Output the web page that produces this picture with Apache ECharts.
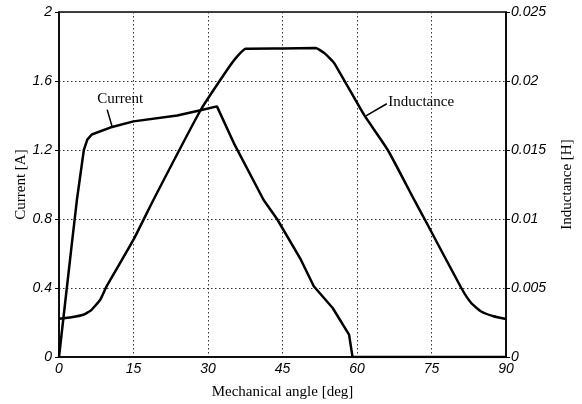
<!DOCTYPE html>
<html><head><meta charset="utf-8">
<script src="https://cdn.jsdelivr.net/npm/echarts@6/dist/echarts.min.js"></script>
<style>html,body{margin:0;padding:0;background:#fff}#c{width:582px;height:404px}</style>
</head><body><div id="c"></div>
<script>
const currentAngle = [0, 2.56, 3.6, 5.0, 5.7, 6.6, 10.3, 15, 23.8, 28.5, 31.8, 35.2, 41.2, 43.9, 48.7, 51.3, 55.1, 58.4, 59.1, 90];
const currentVals  = [0, 0.65, 0.91, 1.20, 1.26, 1.29, 1.33, 1.366, 1.40, 1.43, 1.453, 1.24, 0.91, 0.80, 0.564, 0.41, 0.284, 0.13, 0, 0];
const inductAngle  = [0, 2.5, 4.9, 6.5, 8.3, 9.6, 15, 19, 28.5, 33.9, 35.8, 37.6, 45, 51.7, 53.5, 55.4, 61.4, 66.2, 71.5, 73.6, 81, 83, 85, 87.5, 90];
const inductVals   = [0.00278, 0.00288, 0.00306, 0.00340, 0.00415, 0.00513, 0.0085, 0.01138, 0.01788, 0.02083, 0.02175, 0.02233, 0.02235, 0.02239, 0.02200, 0.0213, 0.01756, 0.0150, 0.0114, 0.0100, 0.0050, 0.00391, 0.0033, 0.00295, 0.00275];
const xTicks = [0, 15, 30, 45, 60, 75, 90];
const leftTicks = [0, 0.4, 0.8, 1.2, 1.6, 2];
const rightTicks = [0, 0.005, 0.01, 0.015, 0.02, 0.025];

const chart = echarts.init(document.getElementById('c'), null, {renderer: 'canvas'});
const tickFont = {fontFamily: 'Liberation Sans', fontStyle: 'italic', fontSize: 14, color: '#000'};
const titleFont = {fontFamily: 'Liberation Serif', fontSize: 15, color: '#000'};
const gridLine = {show: true, lineStyle: {color: '#333', type: [1.5, 2.5], width: 1}};

chart.setOption({
  animation: false,
  grid: {left: 59, right: 76, top: 12, bottom: 47, show: true, borderColor: '#000', borderWidth: 1.5,
         containLabel: false, outerBoundsMode: 'none'},
  xAxis: {
    type: 'value', min: xTicks[0], max: xTicks[xTicks.length - 1], interval: 15,
    name: 'Mechanical angle [deg]', nameLocation: 'middle', nameGap: 28, nameMoveOverlap: false, nameTextStyle: titleFont,
    axisLine: {lineStyle: {color: '#000', width: 1.5}},
    axisTick: {show: false},
    axisLabel: Object.assign({margin: 5}, tickFont),
    splitLine: gridLine
  },
  yAxis: [{
    type: 'value', min: leftTicks[0], max: leftTicks[leftTicks.length - 1], interval: 0.4,
    name: 'Current [A]', nameLocation: 'middle', nameGap: 30, nameMoveOverlap: false, nameTextStyle: titleFont,
    axisLine: {show: true, lineStyle: {color: '#000', width: 1.5}},
    axisTick: {show: true, length: 4, lineStyle: {color: '#000'}},
    axisLabel: Object.assign({margin: 7}, tickFont),
    splitLine: gridLine
  }, {
    type: 'value', min: rightTicks[0], max: rightTicks[rightTicks.length - 1], interval: 0.005,
    position: 'right',
    name: 'Inductance [H]', nameLocation: 'middle', nameGap: 54, nameMoveOverlap: false, nameTextStyle: titleFont,
    axisLine: {show: true, lineStyle: {color: '#000', width: 1.5}},
    axisTick: {show: true, length: 4, lineStyle: {color: '#000'}},
    axisLabel: Object.assign({margin: 5}, tickFont),
    splitLine: {show: false}
  }],
  series: [{
    type: 'line', name: 'Current', yAxisIndex: 0, showSymbol: false,
    data: currentAngle.map((a, i) => [a, currentVals[i]]),
    lineStyle: {color: '#000', width: 2.5}
  }, {
    type: 'line', name: 'Inductance', yAxisIndex: 1, showSymbol: false, smooth: 0.15,
    data: inductAngle.map((a, i) => [a, inductVals[i]]),
    lineStyle: {color: '#000', width: 2.5}
  }]
});

// annotations positioned in data coordinates
function px(ang, val, yi) { return chart.convertToPixel({xAxisIndex: 0, yAxisIndex: yi}, [ang, val]); }
const cText = px(7.7, 1.495, 0), cA = px(9.7, 1.434, 0), cB = px(10.7, 1.335, 0);
const iText = px(66.3, 0.01843, 1), iA = px(66.0, 0.01835, 1), iB = px(61.8, 0.01748, 1);
chart.setOption({graphic: [
  {type: 'text', left: cText[0], top: cText[1] - 8, style: {text: 'Current', font: '15px "Liberation Serif"', fill: '#000'}},
  {type: 'line', shape: {x1: cA[0], y1: cA[1], x2: cB[0], y2: cB[1]}, style: {stroke: '#000', lineWidth: 1.5}},
  {type: 'text', left: iText[0], top: iText[1] - 8, style: {text: 'Inductance', font: '15px "Liberation Serif"', fill: '#000'}},
  {type: 'line', shape: {x1: iA[0], y1: iA[1], x2: iB[0], y2: iB[1]}, style: {stroke: '#000', lineWidth: 1.5}}
]});
</script></body></html>
